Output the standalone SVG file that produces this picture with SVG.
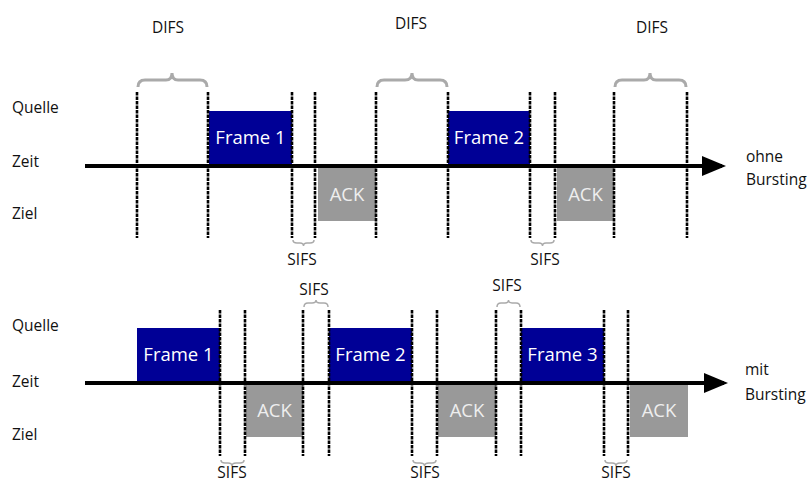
<svg xmlns="http://www.w3.org/2000/svg" width="811" height="482" viewBox="0 0 811 482">
<style>
text{font-family:"Open Sans","Noto Sans","Liberation Sans",sans-serif;fill:#111}
.lbl{font-size:15.5px}
.box{font-size:18.5px;fill:#fff;text-anchor:middle}
.ack{font-size:18.5px;fill:#eee;text-anchor:middle}
.frame{fill:#000096}
.ackr{fill:#999}
.dash{stroke:#000;stroke-width:2.6;stroke-dasharray:3.5 1;fill:none}
.axis{stroke:#000;stroke-width:4;fill:none}
.big{stroke:#aaa;stroke-width:3;fill:none}
.small{stroke:#aaa;stroke-width:1.5;fill:none}
.c{text-anchor:middle}
</style>
<defs>
<marker id="ah" markerWidth="6" markerHeight="5" refX="5" refY="2.5" orient="auto" markerUnits="strokeWidth">
<path d="M0,0 L6,2.5 L0,5 Z" fill="#000"/>
</marker>
</defs>

<!-- row labels -->
<g id="labels">
<text class="lbl" x="12" y="113">Quelle</text>
<text class="lbl" x="12" y="167">Zeit</text>
<text class="lbl" x="12" y="219">Ziel</text>
<text class="lbl" x="12" y="331">Quelle</text>
<text class="lbl" x="12" y="387">Zeit</text>
<text class="lbl" x="12" y="440">Ziel</text>
<text class="lbl" x="746" y="162">ohne</text>
<text class="lbl" x="746" y="185">Bursting</text>
<text class="lbl" x="745" y="375">mit</text>
<text class="lbl" x="745" y="400">Bursting</text>
</g>

<!-- top diagram nodes -->
<g id="t-frame1"><rect class="frame" x="209" y="111" width="83" height="54"/><text class="box" x="250.5" y="144">Frame 1</text></g>
<g id="t-ack1"><rect class="ackr" x="318" y="168" width="58" height="53"/><text class="ack" x="347" y="201">ACK</text></g>
<g id="t-frame2"><rect class="frame" x="448" y="111" width="82" height="54"/><text class="box" x="489" y="144">Frame 2</text></g>
<g id="t-ack2"><rect class="ackr" x="557" y="168" width="57" height="53"/><text class="ack" x="585.5" y="201">ACK</text></g>

<!-- bottom diagram nodes -->
<g id="b-frame1"><rect class="frame" x="137" y="328" width="83" height="53"/><text class="box" x="178.5" y="361">Frame 1</text></g>
<g id="b-ack1"><rect class="ackr" x="246" y="385" width="57" height="52"/><text class="ack" x="274.5" y="417">ACK</text></g>
<g id="b-frame2"><rect class="frame" x="329" y="328" width="83" height="53"/><text class="box" x="370.5" y="361">Frame 2</text></g>
<g id="b-ack2"><rect class="ackr" x="438" y="385" width="58" height="52"/><text class="ack" x="467" y="417">ACK</text></g>
<g id="b-frame3"><rect class="frame" x="521" y="328" width="83" height="53"/><text class="box" x="562.5" y="361">Frame 3</text></g>
<g id="b-ack3"><rect class="ackr" x="630" y="385" width="58" height="52"/><text class="ack" x="659" y="417">ACK</text></g>

<!-- connectors: axes, time markers, braces -->
<g id="connectors">
<line class="axis" x1="85" y1="166" x2="722" y2="166" marker-end="url(#ah)"/>
<line class="axis" x1="85" y1="383" x2="724" y2="383" marker-end="url(#ah)"/>

<g class="dash">
<line x1="137" y1="92" x2="137" y2="238"/>
<line x1="208" y1="92" x2="208" y2="238"/>
<line x1="292" y1="92" x2="292" y2="238"/>
<line x1="315" y1="92" x2="315" y2="238"/>
<line x1="376" y1="92" x2="376" y2="238"/>
<line x1="448" y1="92" x2="448" y2="238"/>
<line x1="530" y1="92" x2="530" y2="238"/>
<line x1="555" y1="92" x2="555" y2="238"/>
<line x1="614" y1="92" x2="614" y2="238"/>
<line x1="687" y1="92" x2="687" y2="238"/>

<line x1="220" y1="310" x2="220" y2="456"/>
<line x1="245" y1="310" x2="245" y2="456"/>
<line x1="303" y1="310" x2="303" y2="456"/>
<line x1="329" y1="310" x2="329" y2="456"/>
<line x1="412" y1="310" x2="412" y2="456"/>
<line x1="437" y1="310" x2="437" y2="456"/>
<line x1="496" y1="310" x2="496" y2="456"/>
<line x1="521" y1="310" x2="521" y2="456"/>
<line x1="604" y1="310" x2="604" y2="456"/>
<line x1="628" y1="310" x2="628" y2="456"/>
</g>

<!-- DIFS braces -->
<path class="big" d="M138,87 Q138,80 145,80 L166,80 Q172,80 172,73 Q172,80 178,80 L200,80 Q207,80 207,87"/>
<path class="big" d="M377,87 Q377,80 384,80 L405,80 Q412,80 412,73 Q412,80 418,80 L440,80 Q447,80 447,87"/>
<path class="big" d="M615,87 Q615,80 622,80 L644,80 Q650,80 650,73 Q650,80 656,80 L679,80 Q686,80 686,87"/>

<!-- SIFS braces top diagram (below) -->
<path class="small" d="M293,240 Q293,243 297,243 L300,243 Q303.5,243 303.5,246 Q303.5,243 307,243 L310,243 Q314,243 314,240"/>
<path class="small" d="M531,240 Q531,243 535,243 L539,243 Q542.5,243 542.5,246 Q542.5,243 546,243 L550,243 Q554,243 554,240"/>

<!-- SIFS braces bottom diagram (above) -->
<path class="small" d="M304,307 Q304,303 308,303 L312,303 Q316,303 316,300 Q316,303 320,303 L324,303 Q328,303 328,307"/>
<path class="small" d="M497,307 Q497,303 501,303 L505,303 Q508.5,303 508.5,300 Q508.5,303 512,303 L516,303 Q520,303 520,307"/>

<!-- SIFS braces bottom diagram (below) -->
<path class="small" d="M221,460 Q221,463 225,463 L228,463 Q232,463 232,466 Q232,463 236,463 L240,463 Q244,463 244,460"/>
<path class="small" d="M413,460 Q413,463 417,463 L420,463 Q424.5,463 424.5,466 Q424.5,463 429,463 L432,463 Q436,463 436,460"/>
<path class="small" d="M605,460 Q605,463 609,463 L612,463 Q616,463 616,466 Q616,463 620,463 L623,463 Q627,463 627,460"/>
</g>

<!-- interval labels -->
<g id="interval-labels">
<text class="lbl c" x="168" y="33">DIFS</text>
<text class="lbl c" x="411" y="29">DIFS</text>
<text class="lbl c" x="652" y="33">DIFS</text>
<text class="lbl c" x="302" y="265">SIFS</text>
<text class="lbl c" x="545" y="265">SIFS</text>
<text class="lbl c" x="314" y="295">SIFS</text>
<text class="lbl c" x="507" y="291">SIFS</text>
<text class="lbl c" x="232" y="478">SIFS</text>
<text class="lbl c" x="425" y="478">SIFS</text>
<text class="lbl c" x="616" y="478">SIFS</text>
</g>
</svg>
